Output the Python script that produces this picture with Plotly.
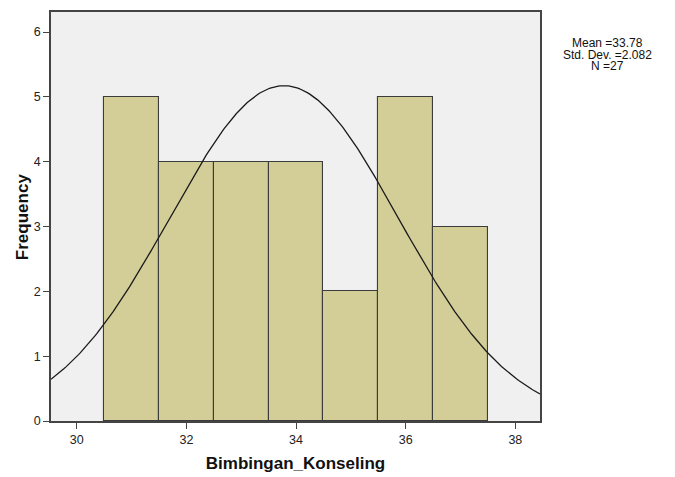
import numpy as np
import plotly.graph_objects as go

bin_centers = [31, 32, 33, 34, 35, 36, 37]
frequencies = [5, 4, 4, 4, 2, 5, 3]
bin_width = 1.0
mean_val = 33.78
std_val = 2.082
n_val = 27
x_ticks = [30, 32, 34, 36, 38]
y_ticks = [0, 1, 2, 3, 4, 5, 6]
stats_lines = [f"Mean ={mean_val}", f"Std. Dev. ={std_val}", f"N ={n_val}"]

fig = go.Figure()
fig.add_trace(go.Bar(
    x=bin_centers, y=frequencies, width=bin_width,
    marker=dict(color="#d3ce97", line=dict(color="#3c3c3c", width=1.1)),
    showlegend=False, hoverinfo="skip"))

xs = np.linspace(29.53, 38.45, 300)
ys = n_val * bin_width / (std_val * np.sqrt(2 * np.pi)) * np.exp(-0.5 * ((xs - mean_val) / std_val) ** 2)
fig.add_trace(go.Scatter(x=xs, y=ys, mode="lines",
                         line=dict(color="#1a1a1a", width=1.3),
                         showlegend=False, hoverinfo="skip"))

# page body has an 8px margin; margins compensate for that offset
stat_y = [0.923, 0.895, 0.867]
annotations = [dict(xref="paper", yref="paper", x=1.139, y=yy, xanchor="center", yanchor="middle",
                    text=t, showarrow=False, font=dict(size=12, color="#111"))
               for t, yy in zip(stats_lines, stat_y)]
annotations.append(dict(xref="paper", yref="paper", x=-0.058, y=0.5, xanchor="center", yanchor="middle",
                        text="<b>Frequency</b>", textangle=-90, showarrow=False,
                        font=dict(size=17, color="#111")))

fig.update_layout(
    width=675, height=477,
    margin=dict(l=43, r=143, t=4, b=64),
    paper_bgcolor="white", plot_bgcolor="#f0f0f0",
    font=dict(family="Liberation Sans, Arial", size=12.5, color="#222"),
    bargap=0,
    xaxis=dict(range=[29.53, 38.45], tickvals=x_ticks, ticks="outside", ticklen=6,
               tickcolor="#444", tickwidth=1.3, showline=True, linecolor="#444", linewidth=1.5, mirror=True,
               showgrid=False, zeroline=False, automargin=False,
               title=dict(text="<b>Bimbingan_Konseling</b>", font=dict(size=17, color="#111"), standoff=11)),
    yaxis=dict(range=[0, 6.31], tickvals=y_ticks, ticks="outside", ticklen=6,
               tickcolor="#444", tickwidth=1.3, showline=True, linecolor="#444", linewidth=1.5, mirror=True,
               showgrid=False, zeroline=False, automargin=False),
    annotations=annotations,
)

fig.write_html("out.html")
